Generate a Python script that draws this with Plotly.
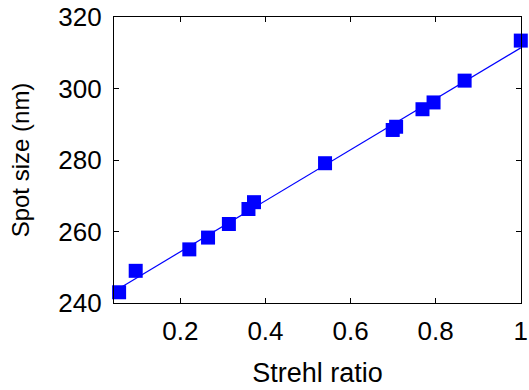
import numpy as np
import plotly.graph_objects as go

strehl = [0.056, 0.095, 0.221, 0.265, 0.314, 0.360, 0.373, 0.540, 0.699, 0.707, 0.769, 0.795, 0.868, 1.0]
spot = [243.0, 249.0, 255.0, 258.3, 262.1, 266.3, 268.2, 279.1, 288.4, 289.3, 294.2, 296.1, 302.2, 313.4]
x_ticks = [0.2, 0.4, 0.6, 0.8, 1.0]
x_tick_text = ["0.2", "0.4", "0.6", "0.8", "1"]
y_ticks = [240, 260, 280, 300, 320]

coef = np.polyfit(strehl, spot, 1)
fx = np.array([min(strehl), max(strehl)])
fy = np.polyval(coef, fx)

BLUE = "#0000ff"
FONT = "Liberation Sans, Arial"
fig = go.Figure()
fig.add_trace(go.Scatter(x=fx, y=fy, mode="lines", line=dict(color=BLUE, width=1.2),
                         showlegend=False, hoverinfo="skip"))
fig.add_trace(go.Scatter(x=strehl, y=spot, mode="markers",
                         marker=dict(symbol="square", size=14, color=BLUE, line=dict(width=0)),
                         cliponaxis=False, showlegend=False))

axis_common = dict(showline=True, linecolor="black", linewidth=1.2, mirror="ticks",
                   ticks="inside", ticklen=5, tickwidth=1, tickcolor="black",
                   showgrid=False, zeroline=False, ticklabeloverflow="allow",
                   tickfont=dict(family=FONT, size=26, color="black"))

fig.update_xaxes(range=[0.044, 1.0005], tickvals=x_ticks, ticktext=x_tick_text,
                 title=dict(text="Strehl ratio", font=dict(family=FONT, size=27, color="black"),
                            standoff=17),
                 ticklabelstandoff=5, **axis_common)
fig.update_yaxes(range=[240, 320], tickvals=y_ticks,
                 title=dict(text="Spot size (nm)", font=dict(family=FONT, size=24, color="black"),
                            standoff=21),
                 ticklabelstandoff=6, **axis_common)

fig.update_layout(width=529, height=390, margin=dict(l=114, r=8, t=17, b=87, autoexpand=False),
                  plot_bgcolor="white", paper_bgcolor="white")
fig.write_html("out.html")
